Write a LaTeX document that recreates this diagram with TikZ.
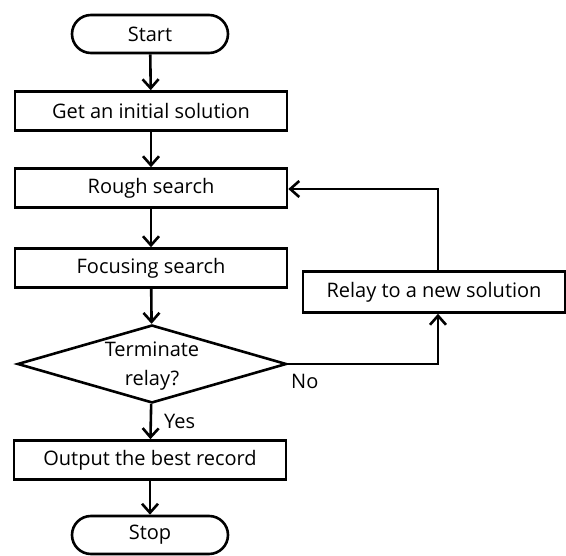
\documentclass[tikz,border=0pt]{standalone}
\usepackage{fontspec}
\setmainfont{Open Sans}
\usetikzlibrary{arrows.meta,shapes.geometric}
\begin{document}
\begin{tikzpicture}[x=1pt,y=-1pt,
  every node/.style={font=\fontsize{20}{26}\selectfont},
  box/.style={draw,line width=2.6pt,minimum width=272pt,minimum height=39pt,inner sep=0pt},
  term/.style={draw,line width=2.6pt,rounded corners=19pt,minimum width=156pt,minimum height=38pt,inner sep=0pt},
  dec/.style={draw,line width=2.6pt,diamond,minimum width=269pt,minimum height=78pt,inner sep=0pt,aspect=3.45},
  arr/.style={line width=2.6pt,-{Straight Barb[length=9pt,width=16pt,line width=2.6pt]}},
  lbl/.style={inner sep=0pt}]
\useasboundingbox (0,0) rectangle (566,556);
\node[term] (start) at (150,34) {Start};
\node[box] (init) at (151,111) {Get an initial solution};
\node[box] (rough) at (151,188) {Rough search};
\node[box] (focus) at (151,268) {Focusing search};
\node[dec] (term) at (152,364) {};
\node[lbl,align=center,font=\fontsize{20}{29}\selectfont] (termtext) at (152,366) {Terminate\\relay?};
\node[box] (out) at (150,460) {Output the best record};
\node[term] (stop) at (150,535) {Stop};
\node[draw,line width=2.6pt,minimum width=262pt,minimum height=41pt,inner sep=0pt] (relay) at (434,292) {Relay to a new solution};
\coordinate (c1) at (438,364);
\coordinate (c2) at (438,189);
\draw[arr] (start) -- (init);
\draw[arr] (init) -- (rough);
\draw[arr] (rough) -- (focus);
\draw[arr] (focus) -- (term);
\draw[arr] (term) -- (out);
\draw[arr] (out) -- (stop);
\draw[arr] (term.east) -- (c1) -- (relay.south -| c1);
\draw[arr] (relay.north -| c2) -- (c2) -- (rough.east |- c2);
\node[lbl,anchor=west] (yes) at (164,421) {Yes};
\node[lbl,anchor=west] (no) at (291,381) {No};
\end{tikzpicture}
\end{document}
